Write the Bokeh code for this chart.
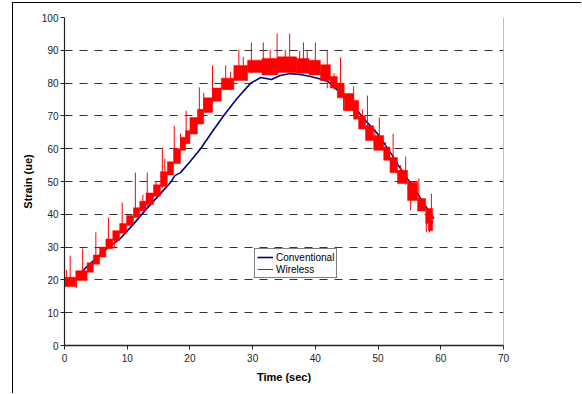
from bokeh.plotting import figure
from bokeh.models import Range1d, FixedTicker, Span, Legend, LegendItem
from bokeh.embed import file_html
from bokeh.resources import INLINE

# ---- data ----
x_ticks = [0, 10, 20, 30, 40, 50, 60, 70]
y_ticks = [0, 10, 20, 30, 40, 50, 60, 70, 80, 90, 100]

# Conventional gauge (smooth line)
conv_t = [2.5, 3.3, 5.0, 7.0, 8.9, 11.0, 13.0, 15.3, 16.9, 17.6, 18.5, 20.0, 21.7,
          23.5, 25.4, 27.5, 29.7, 31.3, 33.0, 34.4, 36.0, 37.6, 39.2, 40.5, 42.0,
          44.0, 45.5, 46.7, 47.7, 49.9, 52.3, 53.2, 56.3, 58.9]
conv_v = [22.0, 23.5, 26.5, 30.0, 32.6, 37.0, 41.5, 46.3, 49.7, 51.8, 52.7, 56.0, 60.0,
          65.0, 70.1, 75.3, 80.0, 81.7, 81.1, 82.3, 82.9, 82.6, 82.0, 81.4, 80.5,
          77.0, 74.0, 71.6, 69.2, 64.6, 57.9, 55.0, 46.3, 38.7]

# Wireless sensor: dense quantised band (start, end, low, high)
wl_t0 = [0.0, 1.8, 3.6, 4.6, 5.6, 6.6, 7.7, 8.8, 9.9, 11.0, 12.0, 13.0, 14.2, 15.3,
         16.4, 17.4, 18.5, 19.3, 20.0, 21.2, 22.2, 23.6, 25.0, 27.0, 29.2, 31.5, 34.0,
         37.0, 39.0, 40.8, 42.4, 43.5, 44.6, 46.1, 46.9, 48.0, 49.3, 50.9, 51.9,
         53.1, 54.7, 56.3, 57.6, 58.0]
wl_t1 = [1.8, 3.6, 4.6, 5.6, 6.6, 7.7, 8.8, 9.9, 11.0, 12.0, 13.0, 14.2, 15.3, 16.4,
         17.4, 18.5, 19.3, 20.0, 21.2, 22.2, 23.6, 25.0, 27.0, 29.2, 31.5, 34.0, 37.0,
         39.0, 40.8, 42.4, 43.5, 44.6, 46.1, 46.9, 48.0, 49.3, 50.9, 51.9, 53.1,
         54.7, 56.3, 57.6, 58.7, 58.7]
wl_lo = [18.0, 19.8, 22.3, 24.8, 27.0, 29.5, 32.0, 34.2, 36.6, 39.0, 41.0, 43.0, 45.5,
         48.5, 52.0, 55.5, 59.5, 61.5, 64.5, 67.5, 71.0, 74.5, 78.0, 80.8, 83.2, 82.5,
         83.2, 83.0, 82.5, 80.8, 78.5, 75.5, 71.6, 69.0, 66.0, 62.5, 59.5, 56.5,
         52.7, 49.4, 44.2, 41.0, 37.2, 35.0]
wl_hi = [20.8, 22.8, 25.2, 27.6, 30.0, 32.5, 35.0, 37.2, 39.6, 42.0, 44.0, 46.5, 49.0,
         53.0, 56.0, 60.0, 63.5, 65.5, 69.5, 72.0, 75.5, 78.5, 81.5, 85.4, 87.0, 87.5,
         88.0, 87.5, 87.0, 85.6, 82.0, 80.0, 76.8, 74.7, 70.0, 67.0, 64.0, 60.5,
         57.3, 53.4, 49.8, 44.8, 41.8, 38.0]

# Wireless noise spikes (time, low, high)
spike_t = [0.3, 0.9, 1.9, 2.9, 5.0, 7.0, 8.0, 9.2, 11.3, 12.5, 13.2, 14.6, 15.6, 16.0,
           17.5, 18.5, 19.4, 20.1, 21.5, 22.2, 23.6, 25.7, 26.5, 27.8, 28.5, 29.8,
           31.7, 32.8, 33.9, 35.2, 35.9, 37.5, 38.1, 38.7, 40.0, 41.9, 41.9, 43.0,
           44.0, 44.5, 45.1, 46.1, 47.5, 48.3, 49.5, 50.2, 51.2, 52.4, 53.6, 54.4,
           55.2, 56.5, 57.7, 58.2, 58.5]
spike_lo = [19.0, 19.0, 17.5, 22.0, 26.0, 31.0, 29.6, 35.0, 40.0, 41.0, 42.0, 46.0, 48.0,
            50.0, 57.0, 60.0, 62.0, 65.0, 68.0, 72.0, 74.0, 78.0, 79.0, 81.0, 83.0,
            83.0, 83.0, 84.0, 83.0, 84.0, 83.0, 83.0, 83.0, 84.0, 83.0, 78.4, 81.0,
            78.0, 76.0, 71.6, 71.6, 70.0, 66.0, 66.0, 60.0, 60.0, 57.0, 55.0, 50.0,
            49.0, 41.2, 42.0, 34.5, 34.5, 38.0]
spike_hi = [23.0, 27.4, 20.0, 29.6, 34.5, 39.0, 33.0, 43.6, 52.7, 46.0, 52.7, 50.0, 60.4,
            57.0, 67.0, 64.6, 71.6, 69.0, 78.7, 77.0, 85.4, 85.4, 83.5, 90.2, 88.0,
            92.4, 92.4, 90.2, 95.1, 90.2, 95.1, 89.9, 92.4, 90.0, 92.4, 82.0, 90.2,
            83.0, 87.8, 76.0, 76.0, 79.0, 72.0, 76.2, 66.0, 69.5, 62.0, 64.6, 55.0,
            57.6, 45.0, 50.9, 40.0, 40.0, 46.3]

FONT = "Liberation Sans"

# canvas origin sits at page (13, 3): 12px/2px margin plus 1px chart border
p = figure(width=569, height=391, x_range=Range1d(0, 70), y_range=Range1d(0, 100),
           output_backend="svg", toolbar_location=None,
           min_border_left=51, min_border_right=79, min_border_top=14, min_border_bottom=49)
p.styles = {"margin-left": "12px", "margin-top": "2px",
            "border-left": "1px solid black", "border-top": "1px solid black"}
p.outline_line_color = None
p.background_fill_color = "white"
p.border_fill_color = "white"

# axes
p.xaxis.ticker = FixedTicker(ticks=x_ticks)
p.yaxis.ticker = FixedTicker(ticks=y_ticks)
p.xaxis.axis_label = "Time (sec)"
p.yaxis.axis_label = "Strain (ue)"
for ax in (p.xaxis, p.yaxis):
    ax.axis_label_text_font = FONT
    ax.axis_label_text_font_style = "bold"
    ax.axis_label_text_font_size = "11px"
    ax.axis_label_text_color = "black"
    ax.major_label_text_font = FONT
    ax.major_label_text_font_size = "10px"
    ax.major_label_text_color = "#222222"
    ax.major_tick_in = 0
    ax.major_tick_out = 4
    ax.minor_tick_line_color = None
    ax.major_tick_line_color = "#222222"
    ax.axis_line_color = "#222222"
p.xaxis.axis_line_width = 1.5
p.yaxis.axis_line_width = 1.2
p.xaxis.major_label_standoff = 4
p.yaxis.major_label_standoff = 2
p.xaxis.axis_label_standoff = 6
p.yaxis.axis_label_standoff = 5

p.xgrid.grid_line_color = None
p.ygrid.ticker = FixedTicker(ticks=y_ticks[1:])
p.ygrid.grid_line_color = "#333333"
p.ygrid.grid_line_dash = "8 7"
p.ygrid.grid_line_width = 1

# right edge of plot area
p.add_layout(Span(location=70, dimension="height", line_color="#808080", line_width=1))

conv = p.line(conv_t, conv_v, line_color="#000080", line_width=1.6)
p.quad(left=wl_t0, right=wl_t1, bottom=wl_lo, top=wl_hi, fill_color="#FF0000",
       line_color="#FF0000", line_width=0.5)
spikes = p.segment(x0=spike_t, y0=spike_lo, x1=spike_t, y1=spike_hi,
                   line_color="#FF0000", line_width=1)

legend = Legend(items=[LegendItem(label="Conventional", renderers=[conv]),
                       LegendItem(label="Wireless", renderers=[spikes])],
                location=(190, 67))
legend.label_text_font = FONT
legend.label_text_font_size = "10px"
legend.label_text_color = "black"
legend.border_line_color = "black"
legend.border_line_width = 1
legend.background_fill_color = "white"
legend.background_fill_alpha = 1
legend.padding = 2
legend.spacing = 0
legend.margin = 0
legend.glyph_width = 16
legend.glyph_height = 12
legend.label_height = 12
legend.label_standoff = 3
p.add_layout(legend)

html = file_html(p, INLINE)
open("out.html", "w").write(html)
